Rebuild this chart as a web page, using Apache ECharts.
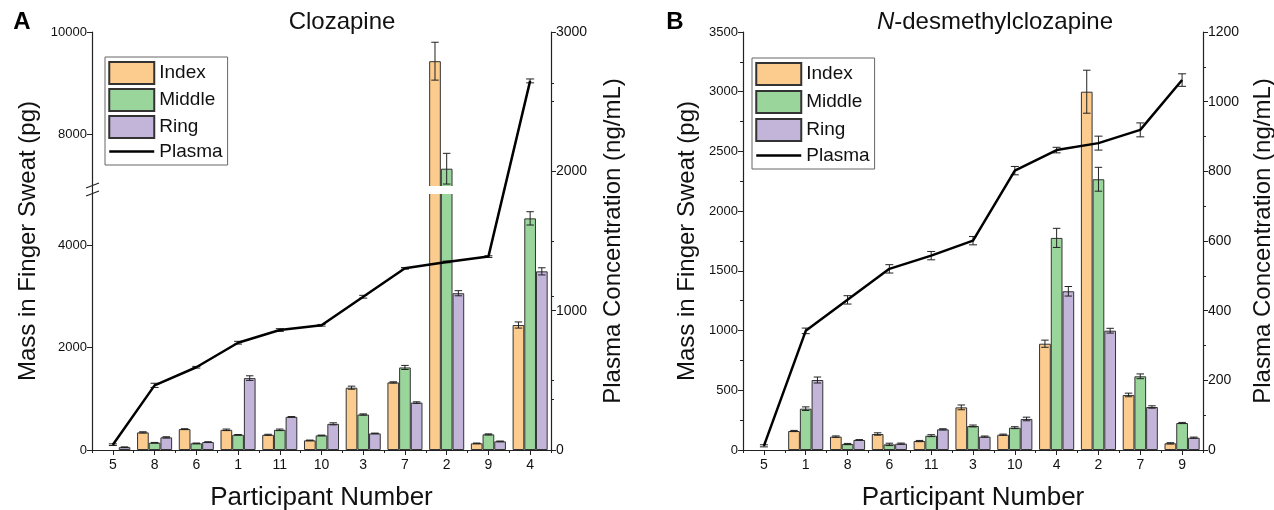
<!DOCTYPE html>
<html><head><meta charset="utf-8">
<script src="https://cdn.jsdelivr.net/npm/echarts@6/dist/echarts.min.js"></script>
<style>html,body{margin:0;padding:0;background:#fff}#c{width:1274px;height:510px}</style>
</head><body><div id="c"></div>
<script>
// ---------- Panel A: Clozapine ----------
const catsA = ['5','8','6','1','11','10','3','7','2','9','4'];
const indexA = [null, 344, 408, 394, 297, 188, 1217, 1320, 9430, 130, 2441];
const indexErrA = [0, 12, 8, 15, 10, 6, 30, 12, 370, 6, 60];
const middleA = [null, 142, 130, 297, 394, 285, 693, 1612, 7330, 305, 4524];
const middleErrA = [0, 6, 6, 6, 15, 6, 12, 40, 300, 10, 130];
const ringA = [55, 247, 155, 1404, 647, 511, 324, 926, 3062, 169, 3489];
const ringErrA = [6, 12, 6, 45, 6, 20, 6, 15, 50, 6, 70];
const plasmaA = [38, 464, 594, 770, 861, 895, 1100, 1304, 1350, 1388, 2649];
const plasmaErrA = [6, 15, 6, 10, 10, 6, 10, 6, 6, 6, 14];
// broken mass axis: lower segment 0-5000, upper segment 7000-10000
const massLowTicksA = [0, 2000, 4000];
const massLowMinorA = [1000, 3000];
const massHighTicksA = [8000, 10000];
const massHighMinorA = [9000];

// ---------- Panel B: N-desmethylclozapine ----------
const catsB = ['5','1','8','6','11','3','10','4','2','7','9'];
const indexB = [null, 159, 112, 134, 75, 357, 128, 890, 3000, 461, 56];
const indexErrB = [0, 5, 6, 10, 5, 20, 5, 30, 180, 15, 5];
const middleB = [null, 346, 50, 47, 120, 201, 187, 1776, 2267, 617, 226];
const middleErrB = [0, 15, 5, 10, 8, 8, 8, 80, 100, 20, 5];
const ringB = [null, 586, 84, 53, 173, 112, 260, 1329, 999, 360, 103];
const ringErrB = [0, 25, 3, 5, 5, 5, 15, 40, 20, 10, 5];
const plasmaB = [12, 342, 431, 520, 558, 601, 802, 861, 881, 919, 1062];
const plasmaErrB = [3, 8, 12, 12, 12, 12, 12, 8, 20, 20, 18];

const FONT = "'Liberation Sans', Arial, sans-serif";
const C_INDEX = '#FCCB8E', C_MIDDLE = '#9AD59C', C_RING = '#C2B5D9', C_BORDER = '#333';
const INK = '#222';

function errRender(offsetIdx) {
  return function (params, api) {
    const x = api.value(0), v = api.value(1), e = api.value(2);
    if (v == null || isNaN(v) || !e) return;
    const catW = api.size([1, 0])[0];
    const bw = offsetIdx === null ? 0 : catW * 0.84 / 3;
    const c = api.coord([x, v]);
    const cx = c[0] + (offsetIdx === null ? 0 : (offsetIdx - 1) * bw);
    const hi = api.coord([x, v + e])[1], lo = api.coord([x, v - e])[1];
    const cap = offsetIdx === null ? 4 : bw * 0.32;
    const st = { stroke: INK, lineWidth: 1 };
    return { type: 'group', children: [
      { type: 'line', shape: { x1: cx, y1: hi, x2: cx, y2: lo }, style: st },
      { type: 'line', shape: { x1: cx - cap, y1: hi, x2: cx + cap, y2: hi }, style: st },
      { type: 'line', shape: { x1: cx - cap, y1: lo, x2: cx + cap, y2: lo }, style: st }
    ]};
  };
}
function errData(vals, errs) { return vals.map((v, i) => [i, v, errs[i]]); }

function barSeries(name, color, data, xi, yi) {
  return { name, type: 'bar', xAxisIndex: xi, yAxisIndex: yi, data, z: 2, clip: true,
    barGap: '0%', barCategoryGap: '16%',
    itemStyle: { color, borderColor: C_BORDER, borderWidth: 1 } };
}
function errSeries(vals, errs, off, xi, yi) {
  return { type: 'custom', xAxisIndex: xi, yAxisIndex: yi, data: errData(vals, errs), clip: true,
    renderItem: errRender(off), z: 6, silent: true, encode: { x: 0, y: 1 } };
}
function lineSeries(data, xi, yi) {
  return { name: 'Plasma', type: 'line', xAxisIndex: xi, yAxisIndex: yi, data, symbol: 'none',
    lineStyle: { color: '#000', width: 2.5 }, itemStyle: { color: '#000' }, z: 10 };
}

const lineCommon = { show: true, lineStyle: { color: INK, width: 1.2 } };
const labelCommon = { color: '#111', fontFamily: FONT, fontSize: 13, margin: 5, formatter: v => String(v) };
const nameStyle = { color: '#111', fontFamily: FONT, fontSize: 24 };

function valueAxis(o) {
  return Object.assign({
    type: 'value', axisLine: lineCommon,
    axisTick: { show: true, length: 5, lineStyle: { color: INK } },
    minorTick: { show: true, splitNumber: 2, length: 3, lineStyle: { color: INK } },
    splitLine: { show: false }, axisLabel: labelCommon,
    nameLocation: 'middle', nameTextStyle: nameStyle
  }, o);
}
function hiddenAxis(o) {
  return Object.assign({ type: 'value', axisLine: { show: false }, axisLabel: { show: false },
    axisTick: { show: false }, splitLine: { show: false } }, o);
}
function xCat(cats, gi) {
  return { type: 'category', data: cats, gridIndex: gi,
    axisLine: lineCommon,
    axisTick: { show: true, alignWithLabel: true, length: 5, lineStyle: { color: INK } },
    axisLabel: { color: '#111', fontFamily: FONT, fontSize: 14, margin: 8 },
    name: 'Participant Number', nameLocation: 'middle', nameGap: 35,
    nameTextStyle: { color: '#111', fontFamily: FONT, fontSize: 26 } };
}
function xCatBoundary(cats, gi) {
  return { type: 'category', data: cats, gridIndex: gi, position: 'bottom',
    axisLine: { show: false }, axisLabel: { show: false },
    axisTick: { show: true, alignWithLabel: false, length: 3, lineStyle: { color: INK } } };
}
function xCatHidden(cats, gi) {
  return { type: 'category', data: cats, gridIndex: gi, show: false };
}
function legendData() {
  return [{ name: 'Index', icon: 'rect' }, { name: 'Middle', icon: 'rect' }, { name: 'Ring', icon: 'rect' },
    { name: 'Plasma', itemStyle: { color: 'rgba(0,0,0,0)', borderColor: 'rgba(0,0,0,0)', borderWidth: 0 },
      lineStyle: { color: '#000', width: 2.5 } }];
}
const legendCommon = {
  orient: 'vertical', itemWidth: 45, itemHeight: 22, itemGap: 3,
  borderColor: '#666', borderWidth: 1, padding: [4, 5, 4, 3],
  textStyle: { fontFamily: FONT, fontSize: 19, color: '#111' }, selectedMode: false
};

// pixel row of the axis break in panel A (mass axis: 51.2 px per 1000 pg)
const BREAK_MID = 190;
const gridBase = { containLabel: false, outerBoundsMode: 'none' };

const option = {
  animation: false,
  backgroundColor: '#fff',
  grid: [
    Object.assign({ left: 92, right: 1274 - 551, top: BREAK_MID, bottom: 60 }, gridBase),        // 0: A lower
    Object.assign({ left: 92, right: 1274 - 551, top: 32, bottom: 510 - BREAK_MID }, gridBase),  // 1: A upper
    Object.assign({ left: 92, right: 1274 - 551, top: 32, bottom: 60 }, gridBase),               // 2: A plasma
    Object.assign({ left: 743, right: 1274 - 1203, top: 32, bottom: 60 }, gridBase)              // 3: B
  ],
  xAxis: [
    xCat(catsA, 0),            // 0
    xCatHidden(catsA, 1),      // 1
    xCatHidden(catsA, 2),      // 2
    xCat(catsB, 3),            // 3
    xCatBoundary(catsA, 0),    // 4
    xCatBoundary(catsB, 3)     // 5
  ],
  yAxis: [
    valueAxis({ gridIndex: 0, min: 0, max: 5078, minorTick: { show: false },
      axisTick: { show: true, length: 5, customValues: massLowTicksA, lineStyle: { color: INK } },
      axisLabel: Object.assign({}, labelCommon, { customValues: massLowTicksA }) }),                 // 0
    valueAxis({ gridIndex: 1, min: 6914, max: 10000, minorTick: { show: false },
      axisTick: { show: true, length: 5, customValues: massHighTicksA, lineStyle: { color: INK } },
      axisLabel: Object.assign({}, labelCommon, { customValues: massHighTicksA }) }),                // 1
    valueAxis({ gridIndex: 2, position: 'right', min: 0, max: 3000, interval: 1000,
      name: 'Plasma Concentration (ng/mL)', nameGap: 50,
      axisLabel: Object.assign({}, labelCommon, { fontSize: 14 }) }),                                 // 2
    hiddenAxis({ gridIndex: 2, position: 'left', min: 0, max: 3000, name: 'Mass in Finger Sweat (pg)',
      nameLocation: 'middle', nameGap: 52, nameTextStyle: nameStyle }),                              // 3
    valueAxis({ gridIndex: 3, min: 0, max: 3500, interval: 500,
      name: 'Mass in Finger Sweat (pg)', nameGap: 44 }),                                             // 4
    valueAxis({ gridIndex: 3, position: 'right', min: 0, max: 1200, interval: 200,
      name: 'Plasma Concentration (ng/mL)', nameGap: 48,
      axisLabel: Object.assign({}, labelCommon, { fontSize: 14 }) }),                                 // 5
    hiddenAxis({ gridIndex: 0, min: 0, max: 5078,
      axisTick: { show: true, length: 3, customValues: massLowMinorA, lineStyle: { color: INK } } }), // 6
    hiddenAxis({ gridIndex: 1, min: 6914, max: 10000,
      axisTick: { show: true, length: 3, customValues: massHighMinorA, lineStyle: { color: INK } } }) // 7
  ],
  legend: [
    Object.assign({}, legendCommon, { left: 105, top: 57, data: legendData() }),
    Object.assign({}, legendCommon, { left: 752, top: 58, itemGap: 4, data: legendData() })
  ],
  series: [
    // Panel A, lower segment
    barSeries('Index', C_INDEX, indexA, 0, 0),
    barSeries('Middle', C_MIDDLE, middleA, 0, 0),
    barSeries('Ring', C_RING, ringA, 0, 0),
    errSeries(indexA, indexErrA, 0, 0, 0),
    errSeries(middleA, middleErrA, 1, 0, 0),
    errSeries(ringA, ringErrA, 2, 0, 0),
    // Panel A, upper segment
    barSeries('Index', C_INDEX, indexA, 1, 1),
    barSeries('Middle', C_MIDDLE, middleA, 1, 1),
    barSeries('Ring', C_RING, ringA, 1, 1),
    errSeries(indexA, indexErrA, 0, 1, 1),
    errSeries(middleA, middleErrA, 1, 1, 1),
    errSeries(ringA, ringErrA, 2, 1, 1),
    // Panel A, plasma
    lineSeries(plasmaA, 2, 2),
    errSeries(plasmaA, plasmaErrA, null, 2, 2),
    // Panel B
    barSeries('Index', C_INDEX, indexB, 3, 4),
    barSeries('Middle', C_MIDDLE, middleB, 3, 4),
    barSeries('Ring', C_RING, ringB, 3, 4),
    errSeries(indexB, indexErrB, 0, 3, 4),
    errSeries(middleB, middleErrB, 1, 3, 4),
    errSeries(ringB, ringErrB, 2, 3, 4),
    lineSeries(plasmaB, 3, 5),
    errSeries(plasmaB, plasmaErrB, null, 3, 5)
  ],
  graphic: [
    { type: 'text', x: 22, y: 22, style: { text: 'A', font: "bold 24px " + FONT, fill: '#000', align: 'center', verticalAlign: 'middle' } },
    { type: 'text', x: 342, y: 22, style: { text: 'Clozapine', font: "24px " + FONT, fill: '#111', align: 'center', verticalAlign: 'middle' } },
    { type: 'text', x: 675, y: 22, style: { text: 'B', font: "bold 24px " + FONT, fill: '#000', align: 'center', verticalAlign: 'middle' } },
    { type: 'text', x: 995, y: 22, style: { text: '{i|N}-desmethylclozapine', font: "24px " + FONT, fill: '#111', align: 'center', verticalAlign: 'middle',
        rich: { i: { fontStyle: 'italic', font: "italic 24px " + FONT, fill: '#111' } } } },
    // white band of the axis break (covers bars, under the plasma line)
    { type: 'rect', shape: { x: 93.5, y: BREAK_MID - 4, width: 456, height: 8 }, style: { fill: '#fff' }, z: 5 },
    { type: 'line', shape: { x1: 86, y1: 188, x2: 99, y2: 183 }, style: { stroke: INK, lineWidth: 1.2 }, z: 20 },
    { type: 'line', shape: { x1: 86, y1: 196, x2: 99, y2: 191 }, style: { stroke: INK, lineWidth: 1.2 }, z: 20 }
  ]
};
const chart = echarts.init(document.getElementById('c'), null, { renderer: 'canvas' });
chart.setOption(option);
</script>
</body></html>
